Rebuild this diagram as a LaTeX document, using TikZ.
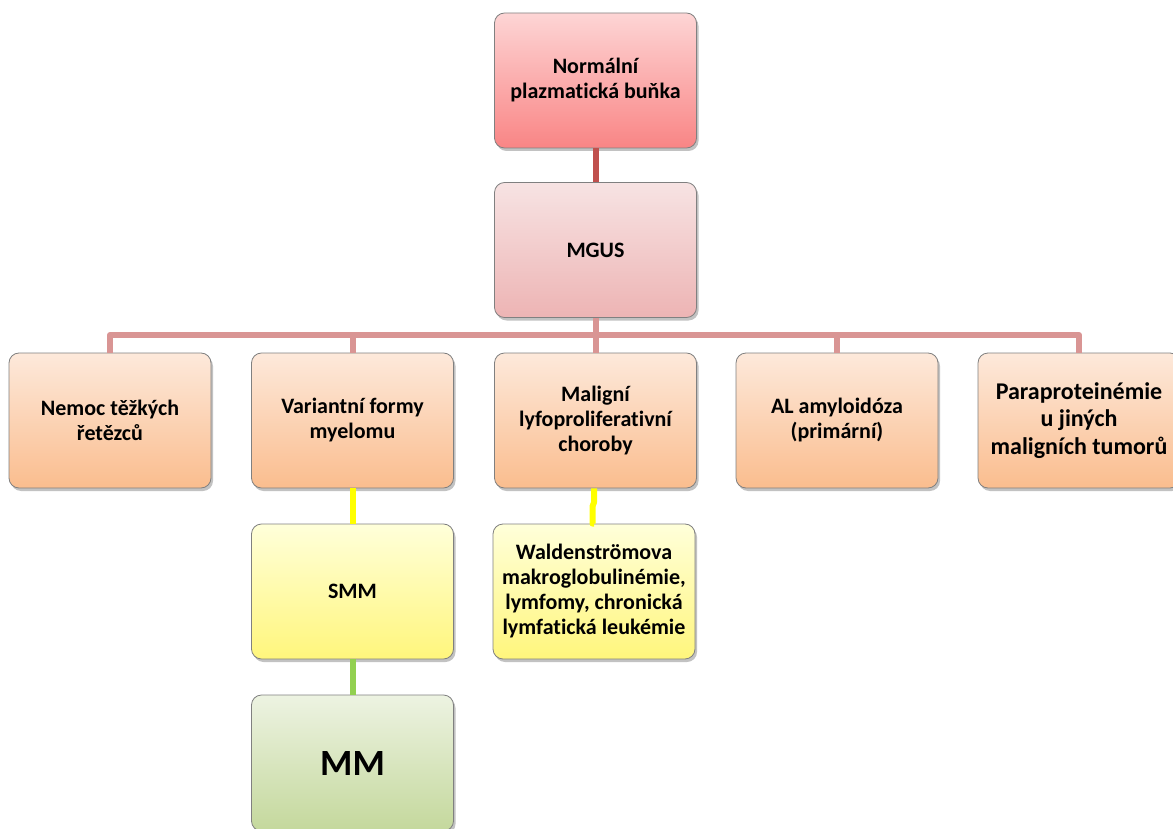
\documentclass[tikz,border=0pt]{standalone}
\usepackage{fontspec}
\setmainfont{Carlito}[Ligatures={NoCommon}]
\usetikzlibrary{shadows,shadings}
\definecolor{redT}{HTML}{FDD5D5}
\definecolor{redB}{HTML}{F98585}
\definecolor{pinkT}{HTML}{F7E3E3}
\definecolor{pinkB}{HTML}{EDB4B4}
\definecolor{orT}{HTML}{FDE9DB}
\definecolor{orB}{HTML}{FABD8E}
\definecolor{yeT}{HTML}{FFFFDA}
\definecolor{yeB}{HTML}{FFF67C}
\definecolor{grT}{HTML}{EDF3E2}
\definecolor{grB}{HTML}{C4D89C}
\definecolor{edge}{HTML}{808080}
\definecolor{darkred}{HTML}{C0504D}
\definecolor{busc}{HTML}{D99594}
\definecolor{yel}{HTML}{FFFF00}
\definecolor{grn}{HTML}{92D050}
\tikzset{
  box/.style={draw=edge, line width=0.8pt, rounded corners=10pt, minimum width=202pt,
    minimum height=135pt, inner sep=2pt, align=center, font=\bfseries\fontsize{22}{25}\selectfont,
    drop shadow={shadow xshift=2pt, shadow yshift=-3pt, opacity=0.4, fill=black!60}},
  redbox/.style={box, top color=redT, bottom color=redB},
  pinkbox/.style={box, top color=pinkT, bottom color=pinkB},
  orbox/.style={box, top color=orT, bottom color=orB},
  yebox/.style={box, top color=yeT, bottom color=yeB},
  grbox/.style={box, top color=grT, bottom color=grB},
  conn/.style={line width=6pt},
}
\begin{document}
\begin{tikzpicture}[x=1pt,y=-1pt]
\useasboundingbox (0,0) rectangle (1173,829);
\node[redbox] (top) at (595.5,80.5) {Normální\\plazmatická buňka};
\node[pinkbox] (mgus) at (595.5,250) {MGUS};
\node[orbox] (b1) at (110,420.5) {Nemoc těžkých\\řetězců};
\node[orbox] (b2) at (352.5,420.5) {Variantní formy\\myelomu};
\node[orbox] (b3) at (595.5,420.5) {Maligní\\lyfoproliferativní\\choroby};
\node[orbox] (b4) at (837,420.5) {AL amyloidóza\\(primární)};
\node[orbox, font=\bfseries\fontsize{24}{27.5}\selectfont] (b5) at (1079,420.5) {Paraproteinémie\\u jiných\\maligních tumorů};
\node[yebox] (smm) at (352.5,591.5) {SMM};
\node[yebox] (wald) at (594,591.5) {Waldenströmova\\makroglobulinémie,\\lymfomy, chronická\\lymfatická leukémie};
\node[grbox, minimum height=136pt, font=\bfseries\fontsize{37}{42}\selectfont] (mm) at (352.5,763) {MM};
\coordinate (bus) at (0,335);
% connectors
\draw[conn, darkred] (top.south) -- (mgus.north);
\draw[conn, busc, line join=round] (b1.north) |- (b5.north |- bus) -- (b5.north);
\draw[conn, busc] (mgus.south) -- (mgus.south |- bus);
\draw[conn, busc] (b2.north |- bus) -- (b2.north);
\draw[conn, busc] (b3.north |- bus) -- (b3.north);
\draw[conn, busc] (b4.north |- bus) -- (b4.north);
\draw[conn, yel] (b2.south) -- (smm.north);
\draw[conn, yel, line join=round] (b3.south -| wald.north) -- ++(0,14) -- ++(-1.5,4) |- (wald.north);
\draw[conn, grn] (smm.south) -- (mm.north);
\end{tikzpicture}
\end{document}
